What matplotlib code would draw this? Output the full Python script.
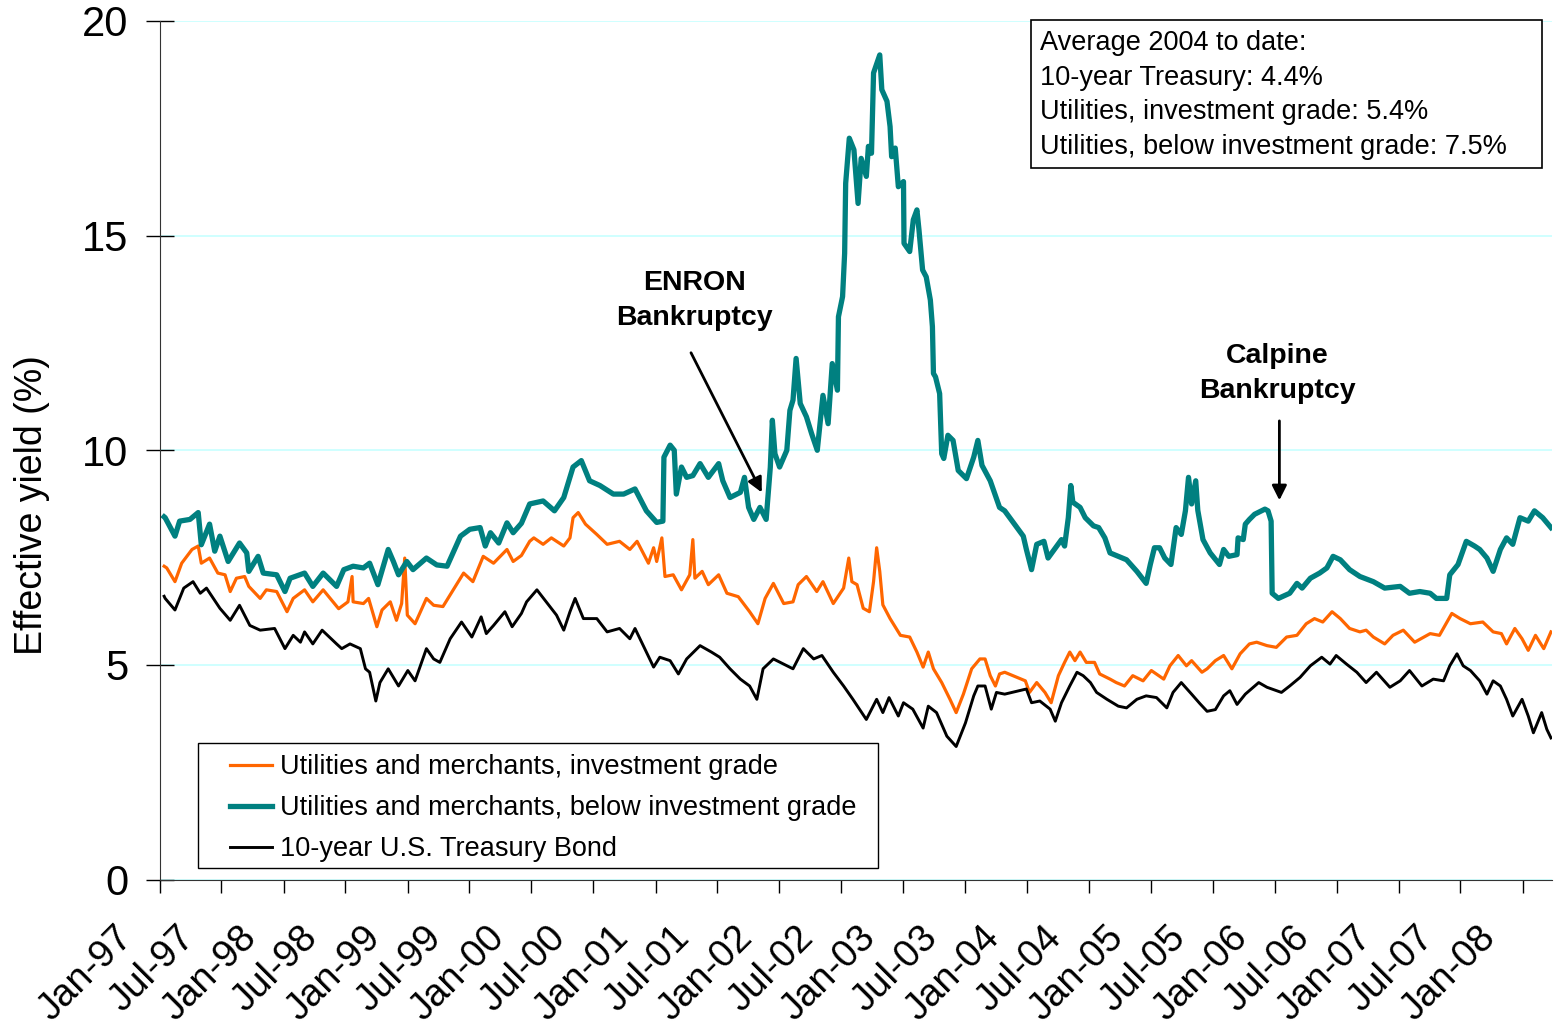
import numpy as np
import pandas as pd
import matplotlib
matplotlib.use('Agg')
import matplotlib.pyplot as plt
import matplotlib.dates as mdates
import matplotlib.transforms as mtransforms

plt.rcParams['font.family'] = ['Liberation Sans', 'DejaVu Sans']

# months after Jan-1997 and effective yield (%)
teal_month = [0.4, 0.5, 1.45, 1.9, 2.9, 3.7, 4.0, 4.8, 5.3, 5.8, 6.6, 7.7, 8.4, 8.6, 9.5, 10.0, 11.3, 12.1, 12.6,
              14.0, 14.8, 15.8, 17.1, 17.8, 18.7, 19.7, 20.3, 21.1, 22.1, 22.6, 23.1, 23.9, 24.5, 25.8, 26.8, 27.8,
              29.1, 30.0, 31.0, 31.5, 32.0, 32.8, 33.6, 34.2, 35.0, 35.8, 37.1, 38.2, 39.1, 40.0, 40.8, 41.6, 42.6,
              43.9, 44.9, 46.0, 47.1, 48.1, 48.7, 48.8, 49.4, 49.8, 50.0, 50.5, 51.0, 51.6, 52.3, 53.1, 54.1, 54.5,
              55.2, 56.2, 56.6, 57.0, 57.5, 58.1, 58.7, 59.1, 59.3, 59.55, 60.0, 60.7, 61.0, 61.3, 61.6, 62.0, 62.6,
              63.1, 63.65, 64.2, 64.7, 65.1, 65.6, 65.7, 66.1, 66.3, 66.4, 66.75, 67.2, 67.6, 67.9, 68.4, 68.6, 68.9,
              69.1, 69.7, 69.9, 70.4, 70.7, 70.85, 71.2, 71.5, 72.0, 72.05, 72.6, 72.95, 73.3, 73.5, 73.85, 74.2,
              74.6, 74.8, 74.9, 75.1, 75.5, 75.7, 75.9, 76.3, 76.8, 77.3, 78.1, 78.8, 79.2, 79.6, 80.4, 81.3, 81.8,
              83.6, 83.9, 84.4, 84.9, 85.6, 86.0, 87.3, 87.6, 87.96, 88.2, 88.4, 89.1, 89.6, 90.4, 90.9, 91.5, 92.0,
              92.8, 93.6, 94.6, 95.5, 95.9, 96.3, 96.8, 97.3, 97.9, 98.4, 98.9, 99.3, 99.6, 99.9, 100.3, 100.5,
              101.0, 101.7, 102.6, 103.0, 103.5, 104.3, 104.4, 104.9, 105.1, 105.5, 106.0, 107.0, 107.3, 107.6,
              107.7, 108.3, 109.4, 110.1, 110.6, 111.4, 112.3, 113.0, 113.6, 114.3, 115.2, 116.2, 117.5, 118.6,
              120.1, 121.0, 122.0, 123.0, 123.6, 124.6, 124.9, 125.7, 126.5, 127.3, 127.8, 128.5, 129.1, 129.8,
              130.4, 131.0, 131.7, 132.5, 133.1, 133.9, 134.7]
teal_yield = [8.45, 8.43, 8.0, 8.35, 8.39, 8.55, 7.8, 8.28, 7.65, 8.0, 7.41, 7.84, 7.61, 7.18, 7.53, 7.14, 7.1, 6.71,
              7.02, 7.14, 6.83, 7.14, 6.83, 7.22, 7.3, 7.26, 7.37, 6.87, 7.69, 7.41, 7.1, 7.41, 7.22, 7.49, 7.33, 7.3,
              8.0, 8.16, 8.2, 7.77, 8.08, 7.84, 8.31, 8.08, 8.3, 8.75, 8.82, 8.59, 8.9, 9.61, 9.76, 9.29, 9.18,
              8.98, 8.98, 9.1, 8.59, 8.32, 8.35, 9.84, 10.12, 10.0, 8.98, 9.61, 9.37, 9.41, 9.69, 9.37, 9.69, 9.29,
              8.9, 9.02, 9.37, 8.67, 8.39, 8.67, 8.39, 9.6, 10.7, 9.92, 9.61, 10.0, 10.93, 11.17, 12.14, 11.09, 10.78,
              10.39, 10.0, 11.28, 10.62, 12.02, 11.4, 13.11, 13.58, 14.59, 16.22, 17.27, 17.0, 15.75, 16.8, 16.38,
              17.08, 16.92, 18.79, 19.21, 18.4, 18.13, 17.54, 16.84, 17.04, 16.14, 16.26, 14.82, 14.63, 15.37,
              15.6, 15.13, 14.2, 14.04, 13.5, 12.88, 11.79, 11.71, 11.32, 9.92, 9.81, 10.35, 10.23, 9.53, 9.34,
              9.84, 10.23, 9.65, 9.29, 8.67, 8.59, 8.0, 7.69, 7.22, 7.81, 7.88, 7.49, 7.92, 7.77, 8.43, 9.18, 8.79,
              8.67, 8.43, 8.24, 8.2, 7.96, 7.61, 7.53, 7.45, 7.18, 6.9, 7.34, 7.73, 7.73, 7.49, 7.34, 8.2, 8.04,
              8.59, 9.37, 8.75, 9.29, 8.6, 7.92, 7.61, 7.34, 7.69, 7.53, 7.57, 7.96, 7.92, 8.28, 8.39, 8.51, 8.63,
              8.59, 8.35, 6.67, 6.55, 6.67, 6.9, 6.79, 7.02, 7.14, 7.26, 7.53, 7.45, 7.22, 7.06, 6.94, 6.79, 6.83,
              6.67, 6.71, 6.67, 6.55, 6.55, 7.1, 7.34, 7.88, 7.77, 7.69, 7.49, 7.18, 7.69, 7.96, 7.81, 8.43, 8.35,
              8.59, 8.43, 8.2]

orange_month = [0.4, 0.65, 1.45, 2.1, 3.1, 3.7, 4.0, 4.8, 5.6, 6.3, 6.8, 7.4, 8.2, 8.6, 9.7, 10.3, 11.3, 12.3, 12.9,
                14.0, 14.8, 15.8, 17.3, 18.2, 18.6, 18.7, 19.7, 20.2, 21.0, 21.5, 22.3, 22.9, 23.4, 23.7, 23.95,
                24.7, 25.8, 26.5, 27.4, 28.4, 29.4, 30.3, 31.3, 32.3, 33.6, 34.2, 35.0, 35.8, 36.2, 37.1, 37.9,
                39.1, 39.7, 40.0, 40.5, 41.2, 42.3, 43.3, 44.5, 45.5, 46.2, 47.3, 47.8, 48.1, 48.6, 48.9, 49.7,
                50.5, 51.3, 51.6, 51.8, 52.5, 53.1, 54.1, 54.9, 56.0, 57.1, 57.9, 58.6, 59.4, 60.4, 61.3, 61.8,
                62.6, 63.6, 64.2, 65.2, 66.2, 66.7, 67.0, 67.5, 68.1, 68.7, 69.1, 69.4, 69.7, 70.0, 70.7, 71.7,
                72.6, 73.3, 73.9, 74.4, 74.9, 75.7, 76.5, 77.1, 77.8, 78.6, 79.4, 79.9, 80.4, 80.9, 81.3, 81.8,
                83.8, 84.2, 84.9, 85.7, 86.3, 87.0, 87.6, 88.1, 88.6, 89.1, 89.7, 90.5, 91.0, 92.0, 92.6, 93.4,
                94.2, 95.2, 96.0, 97.2, 97.8, 98.6, 99.4, 99.9, 100.9, 101.4, 102.2, 103.0, 103.8, 104.6, 105.5,
                106.2, 107.2, 108.1, 109.1, 110.1, 111.0, 111.8, 112.6, 113.5, 114.3, 115.2, 116.2, 116.8, 117.5,
                118.6, 119.4, 120.4, 121.5, 123.0, 123.9, 125.1, 125.9, 126.9, 128.1, 129.1, 129.9, 130.4, 131.2,
                131.9, 132.5, 133.2, 134.0, 134.7]
orange_yield = [7.3, 7.26, 6.94, 7.37, 7.69, 7.77, 7.37, 7.49, 7.14, 7.1, 6.71, 7.02, 7.06, 6.83, 6.55, 6.75, 6.71,
                6.24, 6.55, 6.75, 6.47, 6.75, 6.31, 6.47, 7.06, 6.47, 6.43, 6.55, 5.89, 6.28, 6.47, 6.04, 6.43,
                7.49, 6.16, 5.96, 6.55, 6.39, 6.36, 6.75, 7.14, 6.94, 7.53, 7.37, 7.69, 7.41, 7.55, 7.88, 7.96,
                7.81, 7.96, 7.77, 7.96, 8.43, 8.55, 8.28, 8.04, 7.81, 7.88, 7.69, 7.88, 7.37, 7.73, 7.41, 7.96,
                7.06, 7.1, 6.75, 7.1, 7.92, 7.02, 7.18, 6.87, 7.1, 6.67, 6.59, 6.24, 5.96, 6.55, 6.9, 6.43, 6.47,
                6.87, 7.06, 6.71, 6.94, 6.43, 6.79, 7.49, 6.94, 6.87, 6.32, 6.24, 6.94, 7.73, 7.18, 6.4, 6.08,
                5.69, 5.65, 5.3, 4.95, 5.3, 4.91, 4.59, 4.2, 3.89, 4.32, 4.91, 5.14, 5.14, 4.75, 4.51, 4.79, 4.83,
                4.63, 4.36, 4.59, 4.36, 4.12, 4.75, 5.06, 5.3, 5.1, 5.3, 5.06, 5.06, 4.79, 4.67, 4.59, 4.51, 4.75,
                4.63, 4.87, 4.67, 4.98, 5.22, 4.98, 5.1, 4.83, 4.91, 5.1, 5.22, 4.91, 5.26, 5.49, 5.53, 5.45, 5.41,
                5.65, 5.69, 5.96, 6.08, 6.0, 6.24, 6.08, 5.85, 5.77, 5.81, 5.65, 5.49, 5.69, 5.81, 5.53, 5.73,
                5.69, 6.2, 6.08, 5.96, 6.0, 5.77, 5.73, 5.49, 5.85, 5.61, 5.34, 5.69, 5.38, 5.77]

black_month = [0.4, 0.5, 1.45, 2.3, 3.2, 3.9, 4.5, 5.8, 6.8, 7.7, 8.7, 9.7, 11.1, 12.1, 12.9, 13.6, 14.0, 14.8, 15.7,
               17.1, 17.6, 18.4, 19.4, 19.9, 20.3, 20.9, 21.3, 22.1, 23.1, 24.0, 24.7, 25.8, 26.5, 27.1, 28.1,
               29.2, 30.2, 31.1, 31.6, 32.3, 33.4, 34.1, 35.0, 35.5, 36.5, 37.4, 38.4, 39.1, 39.7, 40.2, 41.0,
               42.3, 43.3, 44.5, 45.5, 46.0, 46.8, 47.8, 48.4, 49.4, 50.2, 51.0, 52.3, 53.4, 54.2, 55.2, 56.2,
               57.1, 57.8, 58.4, 59.4, 60.4, 61.3, 62.3, 63.3, 64.1, 65.2, 66.2, 67.1, 68.4, 69.4, 70.0, 70.6,
               71.5, 72.0, 72.9, 73.9, 74.4, 75.2, 76.2, 77.1, 78.0, 78.8, 79.2, 79.9, 80.5, 81.0, 81.8, 83.9,
               84.4, 85.2, 86.2, 86.7, 87.3, 88.1, 88.8, 89.4, 90.1, 90.7, 91.7, 92.8, 93.6, 94.6, 95.5, 96.5,
               97.5, 98.1, 98.9, 99.9, 100.7, 101.4, 102.2, 103.0, 103.6, 104.3, 105.1, 106.4, 107.2, 108.6,
               109.4, 110.4, 111.4, 112.5, 113.3, 113.9, 114.9, 115.9, 116.8, 117.8, 119.1, 120.1, 121.0, 122.2,
               123.3, 124.3, 124.9, 125.6, 126.2, 126.9, 127.8, 128.5, 129.1, 129.8, 130.4, 131.0, 131.9, 132.5,
               133.0, 133.8, 134.3, 134.7]
black_yield = [6.6, 6.55, 6.28, 6.79, 6.94, 6.67, 6.79, 6.32, 6.04, 6.39, 5.92, 5.81, 5.85, 5.38, 5.69, 5.53, 5.77,
               5.49, 5.81, 5.49, 5.38, 5.49, 5.38, 4.91, 4.83, 4.16, 4.59, 4.91, 4.51, 4.87, 4.63, 5.38, 5.14,
               5.06, 5.61, 6.0, 5.65, 6.12, 5.73, 5.92, 6.24, 5.89, 6.2, 6.47, 6.75, 6.47, 6.16, 5.81, 6.24, 6.55,
               6.08, 6.08, 5.77, 5.85, 5.61, 5.85, 5.45, 4.95, 5.18, 5.1, 4.79, 5.14, 5.45, 5.3, 5.18, 4.91, 4.67,
               4.51, 4.2, 4.91, 5.14, 5.02, 4.91, 5.38, 5.14, 5.22, 4.83, 4.51, 4.2, 3.73, 4.2, 3.89, 4.24, 3.81,
               4.12, 3.97, 3.53, 4.04, 3.89, 3.34, 3.1, 3.65, 4.28, 4.51, 4.51, 3.97, 4.36, 4.32, 4.44, 4.12,
               4.16, 3.97, 3.69, 4.12, 4.51, 4.83, 4.75, 4.59, 4.36, 4.2, 4.04, 4.0, 4.2, 4.28, 4.24, 4.0, 4.36,
               4.59, 4.32, 4.1, 3.92, 3.96, 4.28, 4.4, 4.08, 4.32, 4.59, 4.48, 4.36, 4.51, 4.71, 4.98, 5.18,
               5.02, 5.22, 5.02, 4.83, 4.59, 4.83, 4.48, 4.63, 4.87, 4.51, 4.67, 4.63, 4.98, 5.26, 4.98, 4.87,
               4.63, 4.32, 4.63, 4.51, 4.2, 3.81, 4.2, 3.81, 3.42, 3.89, 3.5, 3.3]

labels = ['Utilities and merchants, investment grade',
          'Utilities and merchants, below investment grade',
          '10-year U.S. Treasury Bond']
box_lines = ['Average 2004 to date:',
             '10-year Treasury: 4.4%',
             'Utilities, investment grade: 5.4%',
             'Utilities, below investment grade: 7.5%']

start = pd.Timestamp('1997-01-01')


def to_dates(months):
    return start + pd.to_timedelta(np.array(months) * 30.4375, unit='D')


fig = plt.figure(figsize=(15.54, 10.31), dpi=100)
ax = fig.add_axes([160 / 1554, 1 - 879.6 / 1031, 1392 / 1554, 858.6 / 1031])

ax.plot(to_dates(orange_month), orange_yield, color='#FF6600', lw=2.3, label=labels[0])
ax.plot(to_dates(teal_month), teal_yield, color='#008080', lw=3.8, label=labels[1])
ax.plot(to_dates(black_month), black_yield, color='black', lw=2.1, label=labels[2])

ax.set_ylim(0, 20)
ax.set_yticks([0, 5, 10, 15, 20])
ax.set_xlim(start, to_dates([134.8])[0])
ax.xaxis.set_major_locator(mdates.MonthLocator(bymonth=[1, 7]))
ax.xaxis.set_major_formatter(mdates.DateFormatter('%b-%y'))

ax.grid(axis='y', color='#CCFFFF', lw=1.3)
ax.set_axisbelow(True)
for s in ['top', 'right']:
    ax.spines[s].set_visible(False)
for s in ['left', 'bottom']:
    ax.spines[s].set_color('#333333')

ax.tick_params(axis='y', direction='inout', length=20, width=1, pad=13, labelsize=30)
ax.tick_params(axis='x', direction='out', length=9.5, width=1, pad=19, labelsize=27.5)
shift = mtransforms.ScaledTranslation(-20 / 100, 0, fig.dpi_scale_trans)
for t in ax.get_xticklabels():
    t.set_rotation(45)
    t.set_ha('right')
    t.set_va('top')
    t.set_transform(t.get_transform() + shift)

ax.set_ylabel('Effective yield (%)', fontsize=27)
ax.yaxis.set_label_coords(-0.079, 0.436)

leg = ax.legend(loc='upper left', bbox_to_anchor=(70 / 1392, (879.6 - 754) / 858.6), borderaxespad=0,
                fontsize=19.5, frameon=False, borderpad=0,
                handlelength=1.55, handletextpad=0.3, labelspacing=0.56)
leg.set_zorder(6)

# legend frame drawn separately (wider than the entries, like the original)
legend_box = plt.Rectangle((198 / 1554, 1 - 868 / 1031), 680 / 1554, 125 / 1031,
                           transform=fig.transFigure, fc='white', ec='black', lw=1.0, zorder=4)
ax.add_patch(legend_box)

# ENRON annotation
ax.annotate('', xy=(to_dates([58.4])[0], 8.96), xytext=(to_dates([51.3])[0], 12.33),
            arrowprops=dict(arrowstyle='-|>', color='black', lw=2, mutation_scale=22))
ax.text(to_dates([51.8])[0], 13.5, 'ENRON\nBankruptcy', ha='center', va='center',
        fontsize=20.5, fontweight='bold', linespacing=1.45)

# Calpine annotation
ax.annotate('', xy=(to_dates([108.4])[0], 8.77), xytext=(to_dates([108.4])[0], 10.75),
            arrowprops=dict(arrowstyle='-|>', color='black', lw=2, mutation_scale=22))
ax.text(to_dates([108.2])[0], 11.78, 'Calpine\nBankruptcy', ha='center', va='center',
        fontsize=20.5, fontweight='bold', linespacing=1.45)

# averages box
rect = plt.Rectangle((1031 / 1554, 1 - 168 / 1031), 511 / 1554, 148 / 1031,
                     transform=fig.transFigure, fc='white', ec='black', lw=1.2, zorder=5)
fig.patches.append(rect)
for i, line in enumerate(box_lines):
    fig.text(1040 / 1554, 1 - (43 + 34.7 * i) / 1031, line, ha='left', va='center',
             fontsize=19.5, zorder=6)

fig.savefig('out.png', dpi=100)
